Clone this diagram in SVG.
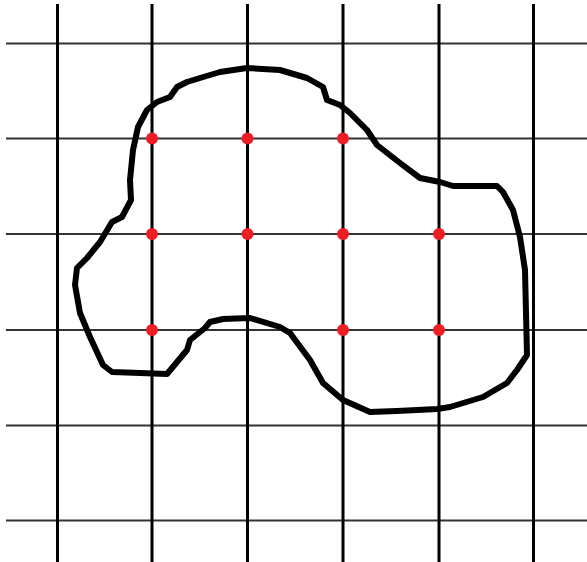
<svg xmlns="http://www.w3.org/2000/svg" width="587" height="562" viewBox="0 0 587 562">
<style>
.h{stroke:#333;stroke-width:2}
.v{stroke:#000;stroke-width:3}
.dot{fill:#ee1c24}
.blob{fill:none;stroke:#000;stroke-width:6;stroke-linejoin:round;stroke-linecap:round}
</style>
<rect width="587" height="562" fill="#fff"/>
<g id="grid">
<line class="h" x1="6" y1="43.5" x2="587" y2="43.5"/>
<line class="h" x1="6" y1="138.5" x2="587" y2="138.5"/>
<line class="h" x1="6" y1="234" x2="587" y2="234"/>
<line class="h" x1="6" y1="330" x2="587" y2="330"/>
<line class="h" x1="6" y1="425.5" x2="587" y2="425.5"/>
<line class="h" x1="6" y1="520.5" x2="587" y2="520.5"/>
<line class="v" x1="57.5" y1="4" x2="57.5" y2="562"/>
<line class="v" x1="152" y1="4" x2="152" y2="562"/>
<line class="v" x1="247.5" y1="4" x2="247.5" y2="562"/>
<line class="v" x1="343" y1="4" x2="343" y2="562"/>
<line class="v" x1="439" y1="4" x2="439" y2="562"/>
<line class="v" x1="533.5" y1="4" x2="533.5" y2="562"/>
</g>
<g id="shape">
<path class="blob" d="M200,78 L220,72 L247,68 L280,70 L307,78 L323,87 L327,100 L340,105 L350,113 L367,130 L377,145 L400,163 L420,178 L440,182 L453,186 L497,186 L503,192 L513,210 L520,237 L525,270 L527,355 L517,370 L507,383 L483,397 L450,407 L437,409 L397,411 L370,412 L343,400 L323,383 L310,360 L290,333 L280,327 L250,318 L223,319 L210,322 L205,328 L190,340 L187,350 L167,374 L140,373 L112,372 L103,365 L90,337 L80,313 L75,285 L77,268 L87,258 L100,242 L112,222 L122,217 L131,200 L130,180 L133,150 L138,127 L147,110 L157,102 L170,97 L177,87 L187,82 Z"/>
</g>
<g id="points">
<circle class="dot" cx="152" cy="138.5" r="6"/>
<circle class="dot" cx="247.5" cy="138.5" r="6"/>
<circle class="dot" cx="343" cy="138.5" r="6"/>
<circle class="dot" cx="152" cy="234" r="6"/>
<circle class="dot" cx="247.5" cy="234" r="6"/>
<circle class="dot" cx="343" cy="234" r="6"/>
<circle class="dot" cx="439" cy="234" r="6"/>
<circle class="dot" cx="152" cy="330" r="6"/>
<circle class="dot" cx="343" cy="330" r="6"/>
<circle class="dot" cx="439" cy="330" r="6"/>
</g>
</svg>
